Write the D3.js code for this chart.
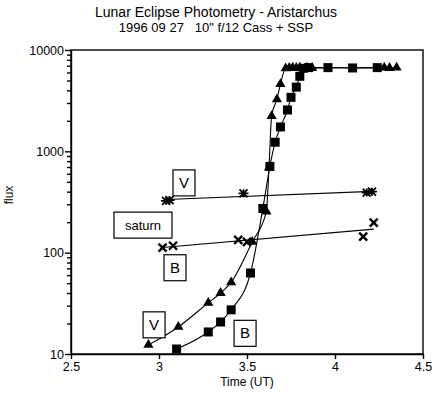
<!DOCTYPE html>
<html>
<head>
<meta charset="utf-8">
<script src="https://cdn.jsdelivr.net/npm/d3@7"></script>
<style>
  body { margin: 0; background: #fff; }
  svg { display: block; font-family: "Liberation Sans", Arial, sans-serif; }
  .axis path, .axis line { stroke: #000; stroke-width: 1.4; }
  .axis text { font-size: 12.5px; fill: #000; }
</style>
</head>
<body>
<div id="chart"></div>
<script>
// V filter (triangles)
const vTime = [2.94, 3.11, 3.28, 3.35, 3.41, 3.53, 3.61, 3.625, 3.64, 3.67, 3.69, 3.72, 3.74, 3.76, 3.78, 3.80, 3.84, 3.87, 4.28, 4.31, 4.35];
const vFlux = [12.3, 18.5, 32, 40, 51, 128, 255, 690, 2230, 3260, 4600, 6600, 6650, 6700, 6650, 6700, 6700, 6650, 6700, 6650, 6700];

// B filter (squares)
const bTime = [3.10, 3.28, 3.35, 3.41, 3.52, 3.59, 3.63, 3.66, 3.69, 3.73, 3.75, 3.78, 3.80, 3.82, 3.85, 3.96, 4.10, 4.24];
const bFlux = [11.2, 16.5, 20.7, 27.3, 63, 273, 710, 1230, 1740, 2560, 3410, 4300, 5500, 6600, 6700, 6700, 6650, 6700];

// saturn comparison readings
const satVTime = [3.04, 3.06, 3.48, 4.18, 4.21];
const satVFlux = [325, 330, 385, 392, 400];
const satBTime = [3.02, 3.08, 3.45, 3.50, 4.16, 4.22];
const satBFlux = [112, 117, 134, 128, 144, 198];

const xTicks = [2.5, 3, 3.5, 4, 4.5];
const yTicks = [10, 100, 1000, 10000];

// boxed labels: text, time, flux at box centre
const labelText = ["V", "saturn", "B", "V", "B"];
const labelTime = [3.142, 2.909, 3.091, 2.972, 3.489];
const labelFlux = [488, 187, 71, 19.4, 16.0];

const width = 441;
const height = 399;
const margin = { top: 50, right: 18, bottom: 45, left: 71 };

const svg = d3.select("#chart")
  .append("svg")
  .attr("width", width)
  .attr("height", height);

const x = d3.scaleLinear()
  .domain([2.5, 4.5])
  .range([margin.left, width - margin.right]);

const y = d3.scaleLog()
  .domain([10, 10000])
  .range([height - margin.bottom, margin.top]);

// title
svg.append("text")
  .attr("x", 216).attr("y", 16.5)
  .attr("text-anchor", "middle")
  .style("font-size", "14px")
  .text("Lunar Eclipse Photometry - Aristarchus");
svg.append("text")
  .attr("x", 216).attr("y", 32)
  .attr("text-anchor", "middle")
  .style("font-size", "13px")
  .attr("xml:space", "preserve")
  .text("1996 09 27   10\" f/12 Cass + SSP");

// frame (top and right sides)
svg.append("rect")
  .attr("x", x(2.5)).attr("y", y(10000))
  .attr("width", x(4.5) - x(2.5))
  .attr("height", y(10) - y(10000))
  .attr("fill", "none")
  .attr("stroke", "#000")
  .attr("stroke-width", 1.4);

// y minor ticks
const minor = [];
for (let d = 10; d < 10000; d *= 10) {
  for (let k = 2; k <= 9; k++) minor.push(d * k);
}
svg.append("g")
  .attr("class", "axis")
  .attr("transform", `translate(${margin.left},0)`)
  .call(d3.axisLeft(y).tickValues(minor).tickSize(4).tickFormat(""))
  .call((g) => g.select(".domain").remove());

svg.append("g")
  .attr("class", "axis")
  .attr("transform", `translate(${margin.left},0)`)
  .call(d3.axisLeft(y).tickValues(yTicks).tickSize(6).tickSizeOuter(0).tickPadding(1).tickFormat(d3.format("d")));

svg.append("g")
  .attr("class", "axis")
  .attr("transform", `translate(0,${height - margin.bottom})`)
  .call(d3.axisBottom(x).tickValues(xTicks).tickSize(5).tickSizeOuter(0).tickPadding(3).tickFormat((d) => String(d)));

// axis titles
svg.append("text")
  .attr("x", x(3.5)).attr("y", 386)
  .attr("text-anchor", "middle")
  .style("font-size", "12px")
  .text("Time (UT)");
svg.append("text")
  .attr("transform", `translate(13,${195}) rotate(-90)`)
  .attr("text-anchor", "middle")
  .style("font-size", "12px")
  .text("flux");

const plot = svg.append("g");

const vData = vTime.map((t, i) => ({ t, f: vFlux[i] }));
const bData = bTime.map((t, i) => ({ t, f: bFlux[i] }));
const sv = satVTime.map((t, i) => ({ t, f: satVFlux[i] }));
const sb = satBTime.map((t, i) => ({ t, f: satBFlux[i] }));

const line = d3.line()
  .x((d) => x(d.t))
  .y((d) => y(d.f))
  .curve(d3.curveMonotoneX);

plot.append("path").datum(vData).attr("d", line)
  .attr("fill", "none").attr("stroke", "#000").attr("stroke-width", 1.1);
plot.append("path").datum(bData).attr("d", line)
  .attr("fill", "none").attr("stroke", "#000").attr("stroke-width", 1.1);

// straight fit (log flux vs time) through the saturn readings
function fitLine(data) {
  const mt = d3.mean(data, (d) => d.t);
  const ml = d3.mean(data, (d) => Math.log10(d.f));
  const sxy = d3.sum(data, (d) => (d.t - mt) * (Math.log10(d.f) - ml));
  const sxx = d3.sum(data, (d) => (d.t - mt) ** 2);
  const slope = sxy / sxx;
  const ext = d3.extent(data, (d) => d.t);
  return ext.map((t) => ({ t, f: Math.pow(10, ml + slope * (t - mt)) }));
}

[sv, sb].forEach((s) => {
  plot.append("path").datum(fitLine(s))
    .attr("d", d3.line().x((d) => x(d.t)).y((d) => y(d.f)))
    .attr("fill", "none").attr("stroke", "#000").attr("stroke-width", 1.1);
});

// markers
plot.selectAll(".tri").data(vData).enter()
  .append("path")
  .attr("transform", (d) => `translate(${x(d.t)},${y(d.f)})`)
  .attr("d", d3.symbol(d3.symbolTriangle, 45))
  .attr("fill", "#000");

plot.selectAll(".sq").data(bData).enter()
  .append("rect")
  .attr("x", (d) => x(d.t) - 4.5)
  .attr("y", (d) => y(d.f) - 4.5)
  .attr("width", 9).attr("height", 9)
  .attr("fill", "#000");

plot.selectAll(".ast").data(sv).enter()
  .append("path")
  .attr("transform", (d) => `translate(${x(d.t)},${y(d.f)})`)
  .attr("d", "M-5,0H5M0,-4V4M-4,-4L4,4M-4,4L4,-4")
  .attr("stroke", "#000").attr("stroke-width", 1.8);

plot.selectAll(".cross").data(sb).enter()
  .append("path")
  .attr("transform", (d) => `translate(${x(d.t)},${y(d.f)})`)
  .attr("d", "M-4,-4L4,4M-4,4L4,-4")
  .attr("stroke", "#000").attr("stroke-width", 2.4);

// boxed labels
const labels = svg.selectAll(".lbl")
  .data(labelText.map((s, i) => ({ s, t: labelTime[i], f: labelFlux[i] })))
  .enter().append("g")
  .attr("transform", (d) => `translate(${x(d.t)},${y(d.f)})`);

labels.append("rect")
  .attr("x", (d) => (d.s.length > 1 ? -29 : -11))
  .attr("y", -13)
  .attr("width", (d) => (d.s.length > 1 ? 58 : 22))
  .attr("height", 26)
  .attr("fill", "#fff")
  .attr("stroke", "#000")
  .attr("stroke-width", 1.2);

labels.append("text")
  .attr("text-anchor", "middle")
  .attr("y", 5)
  .style("font-size", (d) => (d.s.length > 1 ? "13px" : "15px"))
  .text((d) => d.s);
</script>
</body>
</html>
